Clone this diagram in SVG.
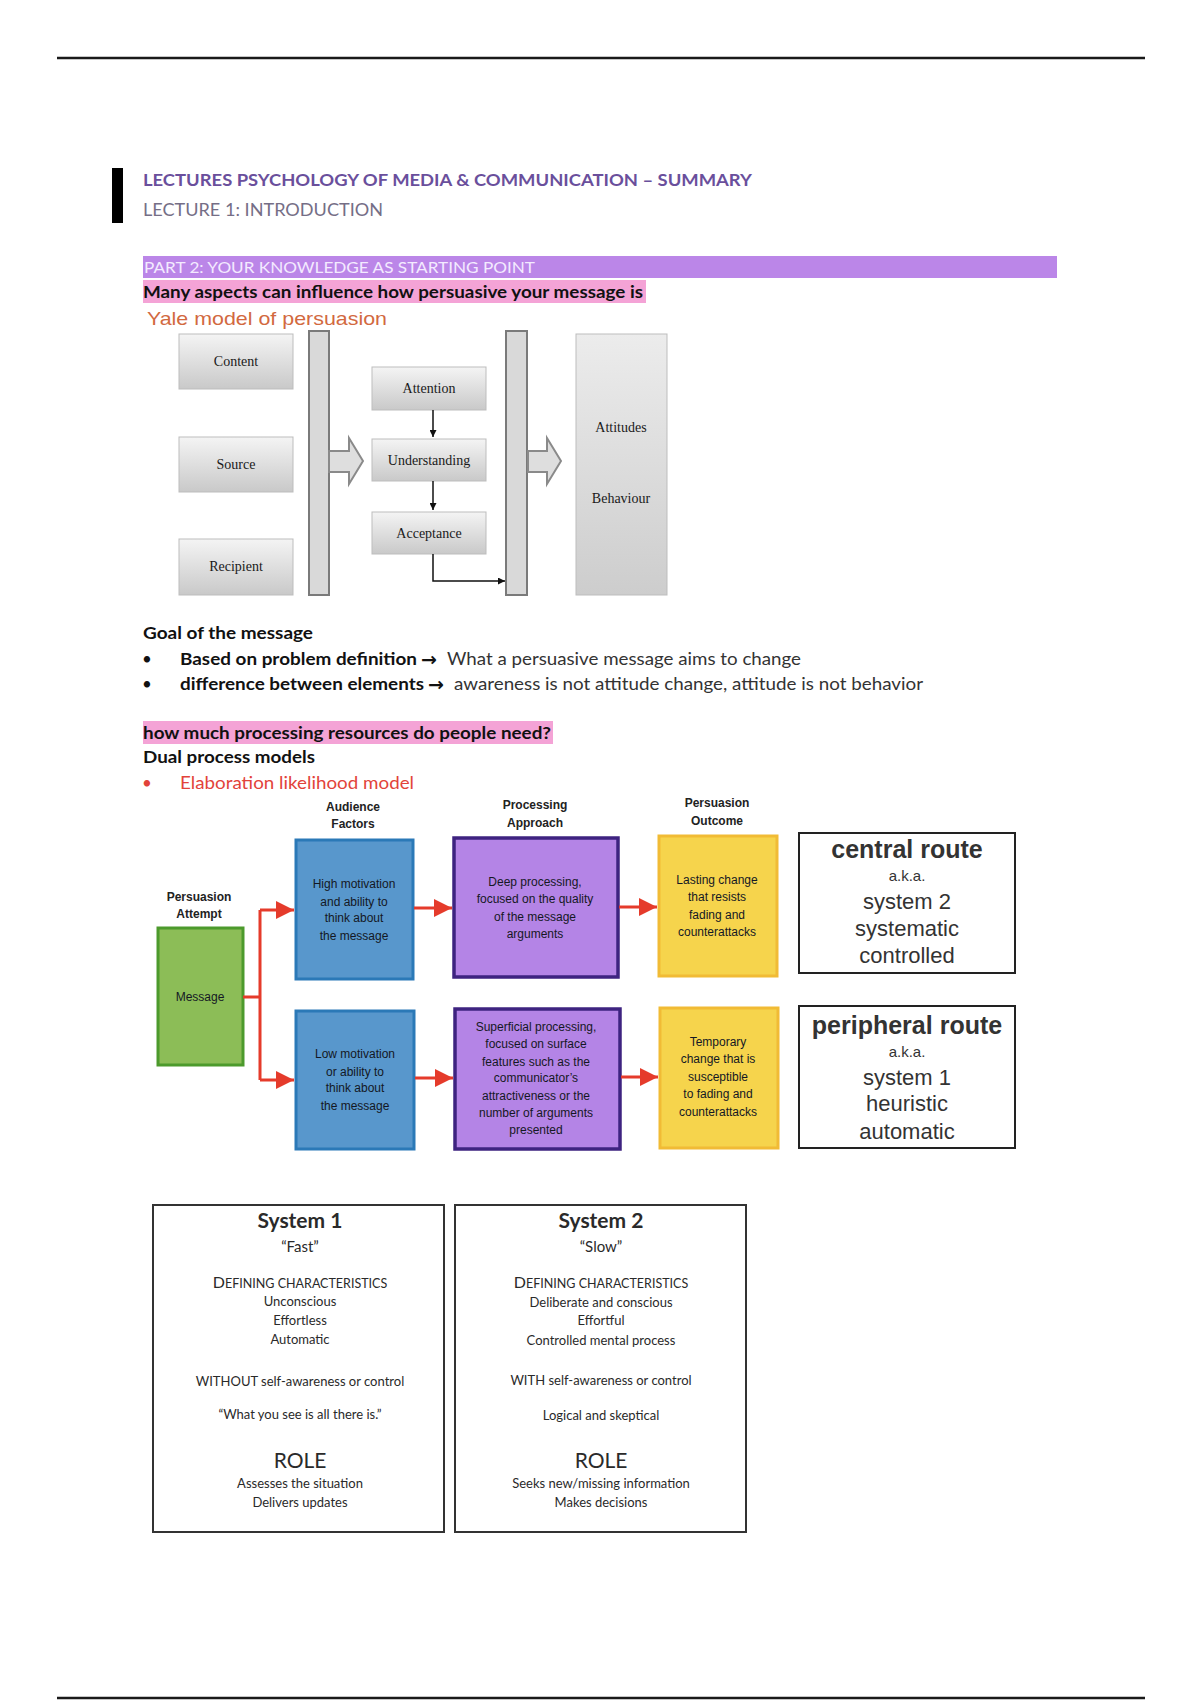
<svg xmlns="http://www.w3.org/2000/svg" width="1200" height="1700" viewBox="0 0 1200 1700">
<style>
.doc{font-family:Lato,"Open Sans","Liberation Sans",sans-serif}
.b{font-weight:bold}
.yb{font-family:"Liberation Serif","Times New Roman",serif;font-size:14px;fill:#1a1a1a;text-anchor:middle}
.elm{font-family:"Liberation Sans",Arial,sans-serif;font-size:12px;fill:#141824;text-anchor:middle}
.elml{font-family:"Liberation Sans",Arial,sans-serif;font-size:12px;font-weight:bold;fill:#222;text-anchor:middle}
.rt{font-family:"Liberation Sans",Arial,sans-serif;text-anchor:middle;fill:#333}
.sys{font-family:Lato,"Open Sans",sans-serif;text-anchor:middle;fill:#2a2a2a}
.ybox{stroke:#bdbdbd;stroke-width:1}
.bar{fill:#d9d9d9;stroke:#7a7a7a;stroke-width:2}
.blk{fill:#dedede;stroke:#8a8a8a;stroke-width:2}
.red{stroke:#e53b2b;stroke-width:3;fill:none}
.thin{stroke:#111;stroke-width:1.5;fill:none}
.arw{font-family:"DejaVu Sans",sans-serif;font-weight:bold;font-size:19px;fill:#111}
</style>
<defs>
<linearGradient id="gbox" x1="0" y1="0" x2="0" y2="1">
<stop offset="0" stop-color="#f4f4f4"/><stop offset="1" stop-color="#c9c9c9"/>
</linearGradient>
<linearGradient id="gtall" x1="0" y1="0" x2="0" y2="1">
<stop offset="0" stop-color="#ececec"/><stop offset="1" stop-color="#cdcdcd"/>
</linearGradient>
<marker id="ak" viewBox="0 0 10 10" refX="10" refY="5" markerWidth="7" markerHeight="7" orient="auto" markerUnits="userSpaceOnUse">
<path d="M0,0 L10,5 L0,10 Z" fill="#111"/>
</marker>
<marker id="ar" viewBox="0 0 10 10" refX="10" refY="5" markerWidth="18" markerHeight="18" orient="auto" markerUnits="userSpaceOnUse">
<path d="M0,0 L10,5 L0,10 Z" fill="#e53b2b"/>
</marker>
</defs>
<rect width="1200" height="1700" fill="#ffffff"/>

<!-- page rules -->
<line x1="57" y1="58" x2="1145" y2="58" stroke="#1a1a1a" stroke-width="2.5"/>
<line x1="57" y1="1698" x2="1145" y2="1698" stroke="#1a1a1a" stroke-width="2.5"/>

<!-- headers -->
<rect x="112" y="168" width="11" height="55" fill="#000"/>
<text class="doc b" x="143" y="186" font-size="17" fill="#6a4f9c" textLength="609" lengthAdjust="spacingAndGlyphs">LECTURES PSYCHOLOGY OF MEDIA &amp; COMMUNICATION – SUMMARY</text>
<text class="doc" x="143" y="216" font-size="17" fill="#756e86" textLength="240" lengthAdjust="spacingAndGlyphs">LECTURE 1: INTRODUCTION</text>

<rect x="143" y="256" width="914" height="22" fill="#bb86e8"/>
<text class="doc" x="144" y="273" font-size="16" fill="#f3eaff" textLength="391" lengthAdjust="spacingAndGlyphs">PART 2: YOUR KNOWLEDGE AS STARTING POINT</text>
<rect x="143" y="280" width="503" height="23" fill="#f4a3d6"/>
<text class="doc b" x="143" y="298" font-size="17" fill="#111" textLength="500" lengthAdjust="spacingAndGlyphs">Many aspects can influence how persuasive your message is</text>
<text x="147" y="325" font-family="Liberation Sans,Arial,sans-serif" font-size="19" fill="#d2693f" textLength="240" lengthAdjust="spacingAndGlyphs">Yale model of persuasion</text>

<!-- Yale model -->
<g id="yale-content"><rect class="ybox" x="179" y="334" width="114" height="55" fill="url(#gbox)"/><text class="yb" x="236" y="366">Content</text></g>
<g id="yale-source"><rect class="ybox" x="179" y="437" width="114" height="55" fill="url(#gbox)"/><text class="yb" x="236" y="469">Source</text></g>
<g id="yale-recipient"><rect class="ybox" x="179" y="539" width="114" height="56" fill="url(#gbox)"/><text class="yb" x="236" y="571">Recipient</text></g>
<g id="yale-bar1"><rect class="bar" x="309" y="331" width="20" height="264"/></g>
<g id="yale-attention"><rect class="ybox" x="372" y="367" width="114" height="43" fill="url(#gbox)"/><text class="yb" x="429" y="393">Attention</text></g>
<g id="yale-understanding"><rect class="ybox" x="372" y="439" width="114" height="42" fill="url(#gbox)"/><text class="yb" x="429" y="465">Understanding</text></g>
<g id="yale-acceptance"><rect class="ybox" x="372" y="512" width="114" height="42" fill="url(#gbox)"/><text class="yb" x="429" y="538">Acceptance</text></g>
<g id="yale-bar2"><rect class="bar" x="506" y="331" width="21" height="264"/></g>
<g id="yale-outcome"><rect class="ybox" x="576" y="334" width="91" height="261" fill="url(#gtall)"/><text class="yb" x="621" y="432">Attitudes</text><text class="yb" x="621" y="503">Behaviour</text></g>

<g id="yale-connectors">
<path class="blk" d="M329,451 H349 V438 L363,461 L349,484 V472 H329 Z"/>
<path class="blk" d="M528,451 H547 V438 L561,461 L547,484 V472 H528 Z"/>
<line class="thin" x1="433" y1="410" x2="433" y2="437" marker-end="url(#ak)"/>
<line class="thin" x1="433" y1="481" x2="433" y2="510" marker-end="url(#ak)"/>
<path class="thin" d="M433,554 V581 H505" marker-end="url(#ak)"/>
</g>

<!-- goal text -->
<text class="doc b" x="143" y="639" font-size="17" fill="#111" textLength="170" lengthAdjust="spacingAndGlyphs">Goal of the message</text>
<text class="doc" x="142" y="665" font-size="17" fill="#111">•</text>
<text class="doc b" x="180" y="665" font-size="17" fill="#111" textLength="237" lengthAdjust="spacingAndGlyphs">Based on problem definition</text>
<text class="arw" x="421" y="666">→</text>
<text class="doc" x="447" y="665" font-size="17" fill="#333" textLength="354" lengthAdjust="spacingAndGlyphs">What a persuasive message aims to change</text>
<text class="doc" x="142" y="690" font-size="17" fill="#111">•</text>
<text class="doc b" x="180" y="690" font-size="17" fill="#111" textLength="244" lengthAdjust="spacingAndGlyphs">difference between elements</text>
<text class="arw" x="428" y="691">→</text>
<text class="doc" x="454" y="690" font-size="17" fill="#333" textLength="469" lengthAdjust="spacingAndGlyphs">awareness is not attitude change, attitude is not behavior</text>

<rect x="143" y="721" width="410" height="23" fill="#f4a3d6"/>
<text class="doc b" x="143" y="739" font-size="17" fill="#111" textLength="408" lengthAdjust="spacingAndGlyphs">how much processing resources do people need?</text>
<text class="doc b" x="143" y="763" font-size="17" fill="#111" textLength="172" lengthAdjust="spacingAndGlyphs">Dual process models</text>
<text class="doc" x="142" y="789" font-size="17" fill="#e2433a">•</text>
<text class="doc" x="180" y="789" font-size="17" fill="#e2433a" textLength="234" lengthAdjust="spacingAndGlyphs">Elaboration likelihood model</text>

<!-- ELM diagram -->
<g id="elm-labels">
<text class="elml" x="199" y="901">Persuasion</text><text class="elml" x="199" y="918">Attempt</text>
<text class="elml" x="353" y="811">Audience</text><text class="elml" x="353" y="828">Factors</text>
<text class="elml" x="535" y="809">Processing</text><text class="elml" x="535" y="827">Approach</text>
<text class="elml" x="717" y="807">Persuasion</text><text class="elml" x="717" y="825">Outcome</text>
</g>
<g id="elm-message"><rect x="158" y="928" width="85" height="137" fill="#8cbd57" stroke="#4c9a2c" stroke-width="3"/><text class="elm" x="200" y="1001">Message</text></g>
<g id="elm-high"><rect x="296" y="840" width="117" height="139" fill="#5897cc" stroke="#2b79b7" stroke-width="3"/>
<text class="elm" x="354" y="888">High motivation</text><text class="elm" x="354" y="906">and ability to</text><text class="elm" x="354" y="922">think about</text><text class="elm" x="354" y="940">the message</text></g>
<g id="elm-low"><rect x="296" y="1011" width="118" height="138" fill="#5897cc" stroke="#2b79b7" stroke-width="3"/>
<text class="elm" x="355" y="1058">Low motivation</text><text class="elm" x="355" y="1076">or ability to</text><text class="elm" x="355" y="1092">think about</text><text class="elm" x="355" y="1110">the message</text></g>
<g id="elm-deep"><rect x="454" y="838" width="164" height="139" fill="#b484e6" stroke="#3e2380" stroke-width="3.5"/>
<text class="elm" x="535" y="886">Deep processing,</text><text class="elm" x="535" y="903">focused on the quality</text><text class="elm" x="535" y="921">of the message</text><text class="elm" x="535" y="938">arguments</text></g>
<g id="elm-superficial"><rect x="455" y="1009" width="165" height="140" fill="#b484e6" stroke="#3e2380" stroke-width="3.5"/>
<text class="elm" x="536" y="1031">Superficial processing,</text><text class="elm" x="536" y="1048">focused on surface</text><text class="elm" x="536" y="1066">features such as the</text><text class="elm" x="536" y="1082">communicator’s</text><text class="elm" x="536" y="1100">attractiveness or the</text><text class="elm" x="536" y="1117">number of arguments</text><text class="elm" x="536" y="1134">presented</text></g>
<g id="elm-lasting"><rect x="659" y="836" width="118" height="140" fill="#f6d44c" stroke="#f1bb35" stroke-width="3"/>
<text class="elm" x="717" y="884">Lasting change</text><text class="elm" x="717" y="901">that resists</text><text class="elm" x="717" y="919">fading and</text><text class="elm" x="717" y="936">counterattacks</text></g>
<g id="elm-temporary"><rect x="660" y="1008" width="118" height="140" fill="#f6d44c" stroke="#f1bb35" stroke-width="3"/>
<text class="elm" x="718" y="1046">Temporary</text><text class="elm" x="718" y="1063">change that is</text><text class="elm" x="718" y="1081">susceptible</text><text class="elm" x="718" y="1098">to fading and</text><text class="elm" x="718" y="1116">counterattacks</text></g>

<g id="elm-connectors">
<path class="red" d="M243,997 H260 M260,910 V1080"/>
<path class="red" d="M260,910 H294" marker-end="url(#ar)"/>
<path class="red" d="M260,1080 H294" marker-end="url(#ar)"/>
<path class="red" d="M414,908 H452" marker-end="url(#ar)"/>
<path class="red" d="M415,1078 H453" marker-end="url(#ar)"/>
<path class="red" d="M619,907 H657" marker-end="url(#ar)"/>
<path class="red" d="M621,1077 H658" marker-end="url(#ar)"/>
</g>

<g id="central-route"><rect x="799" y="833" width="216" height="140" fill="#fff" stroke="#222" stroke-width="2"/>
<text class="rt" x="907" y="858" font-size="25" font-weight="bold" fill="#111">central route</text>
<text class="rt" x="907" y="881" font-size="15" fill="#888">a.k.a.</text>
<text class="rt" x="907" y="909" font-size="22">system 2</text>
<text class="rt" x="907" y="936" font-size="22">systematic</text>
<text class="rt" x="907" y="963" font-size="22">controlled</text></g>
<g id="peripheral-route"><rect x="799" y="1006" width="216" height="142" fill="#fff" stroke="#222" stroke-width="2"/>
<text class="rt" x="907" y="1034" font-size="25" font-weight="bold" fill="#111">peripheral route</text>
<text class="rt" x="907" y="1057" font-size="15" fill="#888">a.k.a.</text>
<text class="rt" x="907" y="1085" font-size="22">system 1</text>
<text class="rt" x="907" y="1111" font-size="22">heuristic</text>
<text class="rt" x="907" y="1139" font-size="22">automatic</text></g>

<!-- System boxes -->
<g id="system1"><rect x="153" y="1205" width="291" height="327" fill="#fff" stroke="#333" stroke-width="2"/>
<text class="sys" x="300" y="1228" font-size="21" font-weight="bold" fill="#222">System 1</text>
<text class="sys" x="300" y="1252" font-size="15">“Fast”</text>
<text class="sys" x="300" y="1288" font-size="16">D<tspan font-size="12.5">EFINING CHARACTERISTICS</tspan></text>
<text class="sys" x="300" y="1306" font-size="13">Unconscious</text>
<text class="sys" x="300" y="1325" font-size="13">Effortless</text>
<text class="sys" x="300" y="1344" font-size="13">Automatic</text>
<text class="sys" x="300" y="1386" font-size="13">WITHOUT self-awareness or control</text>
<text class="sys" x="300" y="1419" font-size="13">“What you see is all there is.”</text>
<text class="sys" x="300" y="1468" font-size="21">ROLE</text>
<text class="sys" x="300" y="1488" font-size="13">Assesses the situation</text>
<text class="sys" x="300" y="1507" font-size="13">Delivers updates</text></g>
<g id="system2"><rect x="455" y="1205" width="291" height="327" fill="#fff" stroke="#333" stroke-width="2"/>
<text class="sys" x="601" y="1228" font-size="21" font-weight="bold" fill="#222">System 2</text>
<text class="sys" x="601" y="1252" font-size="15">“Slow”</text>
<text class="sys" x="601" y="1288" font-size="16">D<tspan font-size="12.5">EFINING CHARACTERISTICS</tspan></text>
<text class="sys" x="601" y="1307" font-size="13">Deliberate and conscious</text>
<text class="sys" x="601" y="1325" font-size="13">Effortful</text>
<text class="sys" x="601" y="1345" font-size="13">Controlled mental process</text>
<text class="sys" x="601" y="1385" font-size="13">WITH self-awareness or control</text>
<text class="sys" x="601" y="1420" font-size="13">Logical and skeptical</text>
<text class="sys" x="601" y="1468" font-size="21">ROLE</text>
<text class="sys" x="601" y="1488" font-size="13">Seeks new/missing information</text>
<text class="sys" x="601" y="1507" font-size="13">Makes decisions</text></g>
</svg>
